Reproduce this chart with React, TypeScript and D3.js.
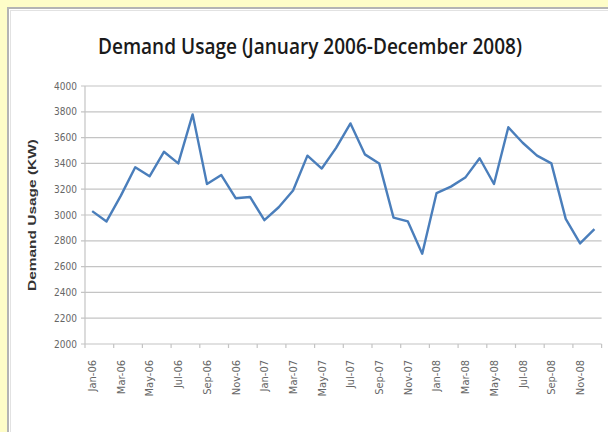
import React, { useEffect, useRef } from "react";
import * as d3 from "d3";

const months = [
  "Jan-06","Feb-06","Mar-06","Apr-06","May-06","Jun-06","Jul-06","Aug-06","Sep-06","Oct-06","Nov-06","Dec-06",
  "Jan-07","Feb-07","Mar-07","Apr-07","May-07","Jun-07","Jul-07","Aug-07","Sep-07","Oct-07","Nov-07","Dec-07",
  "Jan-08","Feb-08","Mar-08","Apr-08","May-08","Jun-08","Jul-08","Aug-08","Sep-08","Oct-08","Nov-08","Dec-08",
];
const demand = [
  3030, 2950, 3150, 3370, 3300, 3490, 3400, 3780, 3240, 3310, 3130, 3140,
  2960, 3060, 3190, 3460, 3360, 3520, 3710, 3470, 3400, 2980, 2950, 2700,
  3170, 3220, 3290, 3440, 3240, 3680, 3560, 3460, 3400, 2970, 2780, 2890,
];
const yTicks = [2000, 2200, 2400, 2600, 2800, 3000, 3200, 3400, 3600, 3800, 4000];
const title = "Demand Usage (January 2006-December 2008)";
const yTitle = "Demand Usage (KW)";

export default function App() {
  const ref = useRef<SVGSVGElement>(null);
  useEffect(() => {
    const svg = d3.select(ref.current);
    svg.selectAll("*").remove();
    const W = 608, H = 432;
    const left = 85, right = 601.6, top = 86, bottom = 344;

    svg.append("rect").attr("x", 0).attr("y", 0).attr("width", W).attr("height", H).attr("fill", "#FEFDC8");
    svg.append("rect").attr("x", 8).attr("y", 8).attr("width", W).attr("height", H).attr("fill", "#ffffff")
      .attr("stroke", "#b4b4b4").attr("stroke-width", 2);
    svg.append("line").attr("x1", 10).attr("x2", W).attr("y1", 10.5).attr("y2", 10.5).attr("stroke", "#e2e2e2");
    svg.append("line").attr("x1", 10.5).attr("x2", 10.5).attr("y1", 10).attr("y2", H).attr("stroke", "#e2e2e2");

    const x = d3.scaleBand<string>().domain(months).range([left, right]);
    const y = d3.scaleLinear().domain([2000, 4000]).range([bottom, top]);

    svg.append("g").selectAll("line").data(yTicks).join("line")
      .attr("x1", left - 4).attr("x2", right)
      .attr("y1", (d) => y(d)).attr("y2", (d) => y(d))
      .attr("stroke", "#c4c4c4").attr("stroke-width", 1.2);

    svg.append("line").attr("x1", left).attr("x2", left).attr("y1", top).attr("y2", bottom)
      .attr("stroke", "#c4c4c4").attr("stroke-width", 1.2);

    const tickIdx = d3.range(0, months.length + 1, 2);
    svg.append("g").selectAll("line").data(tickIdx).join("line")
      .attr("x1", (i) => left + i * x.step()).attr("x2", (i) => left + i * x.step())
      .attr("y1", bottom).attr("y2", bottom + 4)
      .attr("stroke", "#c4c4c4").attr("stroke-width", 1.2);

    svg.append("g").selectAll("text").data(yTicks).join("text")
      .attr("x", left - 8).attr("y", (d) => y(d)).attr("dy", "0.35em")
      .attr("text-anchor", "end")
      .attr("font-family", "'Liberation Sans Narrow', 'DejaVu Sans Condensed', Arial, sans-serif")
      .attr("font-size", 10).attr("fill", "#666")
      .text((d) => String(d));

    const labeled = months.filter((_, i) => i % 2 === 0);
    svg.append("g").selectAll("text").data(labeled).join("text")
      .attr("transform", (d) => `translate(${(x(d) as number) + x.bandwidth() / 2},${bottom + 16}) rotate(-90)`)
      .attr("dy", "0.35em")
      .attr("text-anchor", "end")
      .attr("font-family", "'Liberation Sans Narrow', 'DejaVu Sans Condensed', Arial, sans-serif")
      .attr("font-size", 11).attr("fill", "#666")
      .text((d) => d);

    const line = d3.line<number>()
      .x((_, i) => (x(months[i]) as number) + x.bandwidth() / 2)
      .y((d) => y(d));
    svg.append("path").datum(demand).attr("d", line).attr("fill", "none")
      .attr("stroke", "#4A7EBB").attr("stroke-width", 2.4).attr("stroke-linejoin", "round");

    svg.append("text").attr("x", 310).attr("y", 54).attr("text-anchor", "middle")
      .attr("font-family", "'Open Sans', Arial, sans-serif")
      .attr("font-size", 22).attr("font-weight", 600).attr("fill", "#1a1a1a")
      .attr("textLength", 424).attr("lengthAdjust", "spacingAndGlyphs")
      .text(title);

    svg.append("text").attr("transform", `translate(32,${(top + bottom) / 2}) rotate(-90)`)
      .attr("text-anchor", "middle").attr("dy", "0.35em")
      .attr("font-family", "Arial, 'Liberation Sans', sans-serif")
      .attr("font-size", 11).attr("font-weight", "bold").attr("fill", "#333")
      .attr("textLength", 152).attr("lengthAdjust", "spacingAndGlyphs")
      .text(yTitle);
  }, []);
  return (
    <svg ref={ref} width={608} height={432}
      style={{ position: "absolute", left: 0, top: 0, display: "block" }} />
  );
}
